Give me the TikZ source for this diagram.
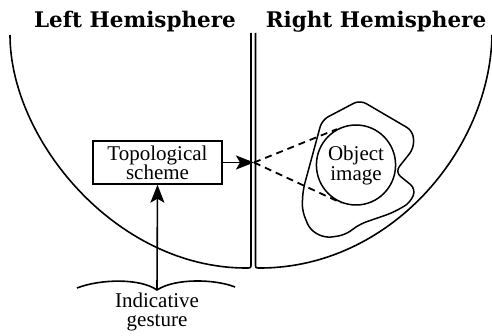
\documentclass[tikz,border=0pt]{standalone}
\usepackage{fontspec}
\setmainfont{Liberation Serif}
\newfontfamily\titlefont{DejaVu Serif}
\usetikzlibrary{arrows.meta,shapes.geometric}
\begin{document}
\begin{tikzpicture}[x=1pt,y=-1pt,line width=1.6pt,
  title/.style={font=\titlefont\bfseries\fontsize{21.5}{24}\selectfont,anchor=base},
  lbl/.style={font=\fontsize{21}{20}\selectfont,align=center,inner sep=0pt},
  boxnode/.style={draw,line width=1.4pt,lbl,minimum width=129pt,minimum height=43pt},
  arr/.style={-{Stealth[length=18pt,width=14pt,inset=4pt]}},
  dsh/.style={dash pattern=on 7pt off 5pt,line width=1.8pt}]
\useasboundingbox (0,0) rectangle (492,336);
% titles
\node[title] (lh) at (135,28) {Left Hemisphere};
\node[title] (rh) at (376,28) {Right Hemisphere};
% hemispheres
\draw (251,33) -- (251,264) .. controls (251,268) .. (246,268)
  .. controls (115.7,268) and (10,139.4) .. (10,35);
\draw (255.5,33) -- (255.5,264) .. controls (255.5,268) .. (260,268)
  .. controls (390,268) and (490,150) .. (492,35);
% box
\node[boxnode] (ts) at (157.5,162.5) {Topological\\[-1pt]scheme};
\coordinate (jn) at (254,162.5);
\draw[arr] (ts.east) -- (jn);
% object image
\draw[line width=1.5pt,rounded corners=7pt] (360,100) -- (413,131) -- (414,148) -- (395,172)
  -- (416,189) -- (410,203) -- (392,213) -- (360,224) -- (345,235) -- (325,238)
  -- (310,230) -- (302,210) -- (303,190) -- (322,120) -- cycle;
\node[draw,ellipse,line width=1.5pt,minimum width=68pt,minimum height=80pt,lbl] (obj) at (356,165) {Object\\image};
\draw[dsh] (jn) -- (obj.118);
\draw[dsh] (jn) -- (obj.249);
% gesture
\coordinate (g) at (157,290);
\draw (77,288) .. controls (100,279) and (140,278) .. (g)
  .. controls (175,278) and (215,279) .. (235,287);
\draw[arr] (g) -- (ts.south);
\node[lbl] (ig) at (157,312) {Indicative\\[-1pt]gesture};
\end{tikzpicture}
\end{document}
